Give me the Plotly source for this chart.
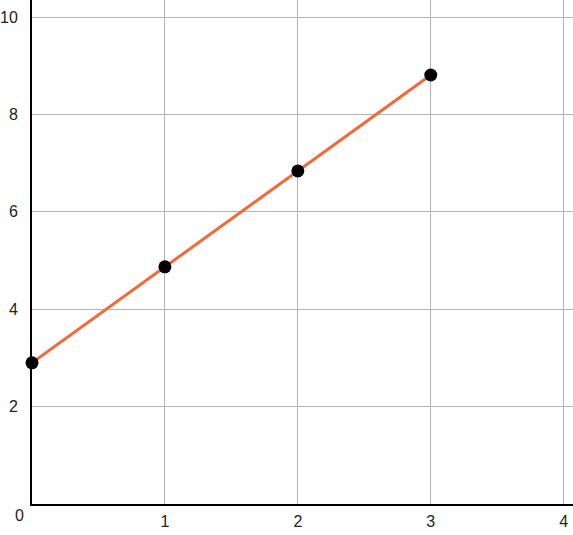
import plotly.graph_objects as go

x_values = [0, 1, 2, 3]
y_values = [2.9, 4.87, 6.84, 8.81]
x_ticks = [1, 2, 3, 4]
y_ticks = [2, 4, 6, 8, 10]

tick_font = {"family": "Liberation Sans, Arial, sans-serif", "size": 16, "color": "#222"}

fig = go.Figure(
    go.Scatter(
        x=x_values,
        y=y_values,
        mode="lines+markers",
        line={"color": "#F26A3A", "width": 3},
        marker={"color": "black", "size": 13},
        cliponaxis=False,
        hoverinfo="x+y",
    )
)

axis_style = {
    "showgrid": True,
    "gridcolor": "#b4b4b4",
    "gridwidth": 1,
    "zeroline": False,
    "showline": True,
    "linecolor": "black",
    "linewidth": 2,
    "ticks": "outside",
    "tickcolor": "rgba(0,0,0,0)",
    "tickfont": tick_font,
}

fig.update_layout(
    width=573,
    height=535,
    margin={"l": 32, "r": 0, "t": 0, "b": 31},
    paper_bgcolor="white",
    plot_bgcolor="white",
    showlegend=False,
    xaxis={**axis_style, "range": [0, 4.07], "tickvals": x_ticks, "ticklen": 2,
           "automargin": False},
    yaxis={**axis_style, "range": [0, 10.35], "tickvals": y_ticks, "ticklen": 9,
           "automargin": False},
    annotations=[
        {
            "x": 0, "y": 0, "xref": "x", "yref": "y",
            "text": "0", "showarrow": False,
            "xanchor": "right", "yanchor": "top",
            "xshift": -6, "yshift": -1,
            "font": tick_font,
        }
    ],
)

# the page body has a default 8px margin, drop it so the chart sits at the corner
fig.write_html(
    "out.html",
    config={"displayModeBar": False},
    post_script="document.body.style.margin='0';",
)
